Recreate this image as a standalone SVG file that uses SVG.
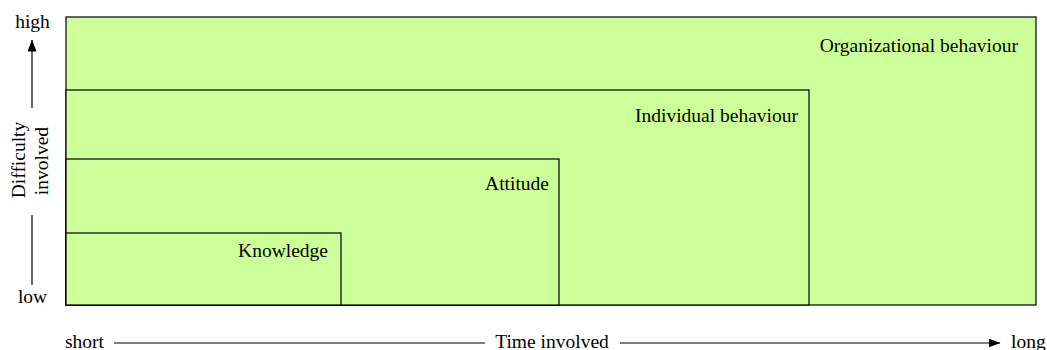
<svg xmlns="http://www.w3.org/2000/svg" width="1047" height="350" viewBox="0 0 1047 350">
<style>
.box{fill:#ccff99;stroke:#000;stroke-width:1.2}
.t{font-family:"Liberation Serif","Times New Roman",serif;font-size:19.5px;fill:#000}
.r{text-anchor:end}
.m{text-anchor:middle}
.ax{stroke:#000;stroke-width:1.2;fill:none}
</style>
<defs>
<marker id="ah" markerWidth="12" markerHeight="9" refX="11.5" refY="4.5" orient="auto" markerUnits="userSpaceOnUse">
<path d="M0,0 L12,4.5 L0,9 Z" fill="#000"/>
</marker>
</defs>
<g id="organizational">
<rect class="box" x="66" y="17" width="970" height="288"/>
<text class="t r" x="1018" y="52">Organizational behaviour</text>
</g>
<g id="individual">
<rect class="box" x="66" y="90" width="743" height="215"/>
<text class="t r" x="798" y="122">Individual behaviour</text>
</g>
<g id="attitude">
<rect class="box" x="66" y="159" width="493" height="146"/>
<text class="t r" x="549" y="190">Attitude</text>
</g>
<g id="knowledge">
<rect class="box" x="66" y="233" width="275" height="72"/>
<text class="t r" x="328" y="257">Knowledge</text>
</g>
<g id="axes">
<text class="t m" x="32.5" y="28">high</text>
<line class="ax" x1="32" y1="108" x2="32" y2="40" marker-end="url(#ah)"/>
<text class="t m" transform="translate(25,160) rotate(-90)">Difficulty</text>
<text class="t m" transform="translate(48,161) rotate(-90)">involved</text>
<line class="ax" x1="32" y1="215" x2="32" y2="285"/>
<text class="t m" x="32.5" y="303">low</text>
<text class="t" x="65" y="348">short</text>
<line class="ax" x1="114" y1="343" x2="485" y2="343"/>
<text class="t m" x="552" y="348">Time involved</text>
<line class="ax" x1="620" y1="343" x2="1000" y2="343" marker-end="url(#ah)"/>
<text class="t" x="1011" y="348">long</text>
</g>
</svg>
